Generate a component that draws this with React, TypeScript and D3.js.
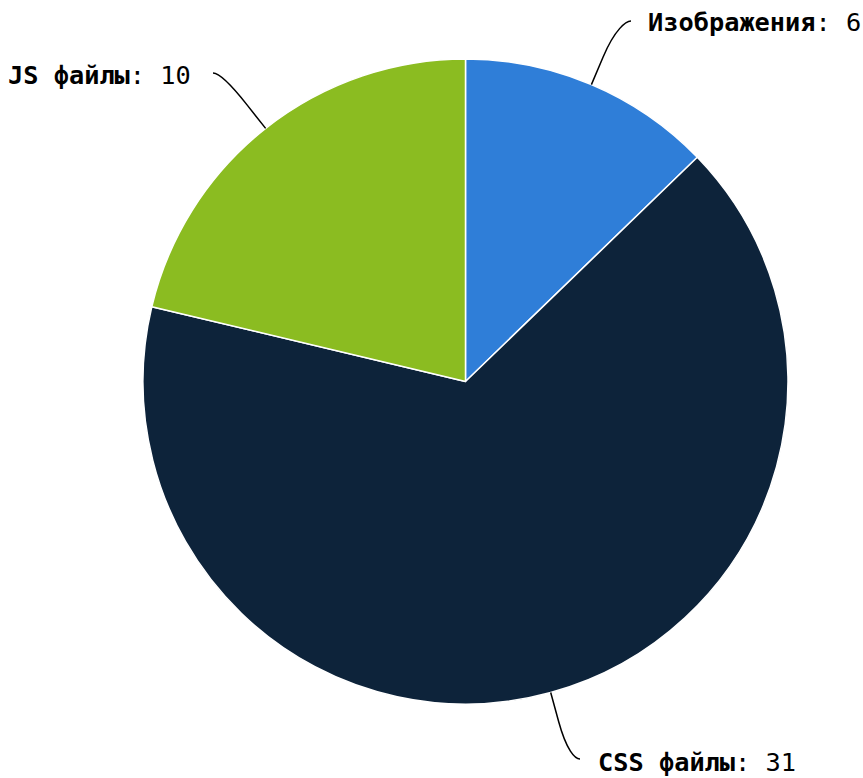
import React from "react";
import * as d3 from "d3";

const categories = ["Изображения", "CSS файлы", "JS файлы"];
const values = [6, 31, 10];
const colors = ["#2f7ed8", "#0d233a", "#8bbc21"];

const W = 863;
const H = 778;
const cx = 465.5;
const cy = 381.5;
const R = 322.5;
const DIST = 60;

// label layout: anchor of text, connector end point
const labelLayout = [
  { tx: 648, ty: 31, anchor: "start", ex: 631, ey: 21 },
  { tx: 598, ty: 771, anchor: "start", ex: 580, ey: 759 },
  { tx: 8, ty: 84, anchor: "start", ex: 213, ey: 73 },
];

export default function App() {
  const pie = d3.pie<number>().sort(null).value((d) => d)(values);
  const arc = d3.arc<d3.PieArcDatum<number>>().innerRadius(0).outerRadius(R);

  return (
    <svg
      width={W}
      height={H}
      style={{ position: "absolute", left: 0, top: 0, background: "#fff" }}
      fontFamily="'DejaVu Sans Mono', monospace"
    >
      <g transform={`translate(${cx},${cy})`}>
        {pie.map((p, i) => (
          <path key={i} d={arc(p) || ""} fill={colors[i]} stroke="#fff" strokeWidth={1.5} strokeLinejoin="round" />
        ))}
      </g>
      {pie.map((p, i) => {
        const mid = (p.startAngle + p.endAngle) / 2;
        const sx = Math.sin(mid);
        const sy = -Math.cos(mid);
        const touch = [cx + R * sx, cy + R * sy];
        const brk = [cx + (R + DIST / 2) * sx, cy + (R + DIST / 2) * sy];
        const c2 = [cx + (R + DIST) * sx, cy + (R + DIST) * sy];
        const L = labelLayout[i];
        const left = L.ex < cx;
        const c1x = L.ex + (left ? 5 : -5);
        const d = `M${L.ex},${L.ey} C${c1x},${L.ey} ${c2[0]},${c2[1]} ${brk[0]},${brk[1]} L${touch[0]},${touch[1]}`;
        return (
          <g key={"l" + i}>
            <path d={d} fill="none" stroke="#000" strokeWidth={1.5} />
            <text x={L.tx} y={L.ty} textAnchor={L.anchor} fontSize={25.3} fill="#000">
              <tspan fontWeight="bold">{categories[i]}</tspan>
              <tspan>: {values[i]}</tspan>
            </text>
          </g>
        );
      })}
    </svg>
  );
}
